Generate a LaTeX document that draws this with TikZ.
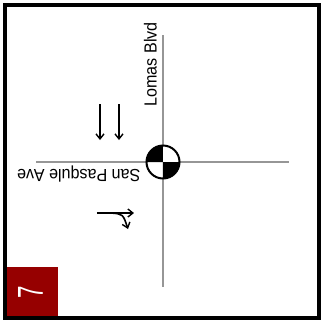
\documentclass[tikz,border=0pt]{standalone}
\usepackage{fontspec}
\setmainfont{Liberation Sans}
\usetikzlibrary{arrows.meta}
\definecolor{roadgray}{RGB}{150,150,150}
\definecolor{boxred}{RGB}{150,0,0}
\begin{document}
\begin{tikzpicture}[x=1pt,y=-1pt,
  road/.style={draw=roadgray,line width=2pt},
  lanearrow/.style={draw=black,line width=1.6pt,-{Straight Barb[length=5pt,width=8pt,line width=1.4pt]}},
  label/.style={font=\fontsize{17.5}{19}\selectfont,inner sep=0pt}]
\useasboundingbox (0,0) rectangle (322,325);
\fill[white] (0,0) rectangle (322,325);
% red corner box
\fill[boxred] (5,267) rectangle (58,318);
\node[inner sep=0pt,text=white,rotate=90,font=\fontsize{36}{38}\selectfont] (num) at (30.5,292.5) {\scalebox{0.62}[1]{7}};
% outer frame
\draw[line width=3.5pt] (5,5) rectangle (319,318);
% roads
\coordinate (n) at (163,35);
\coordinate (s) at (163,287);
\coordinate (w) at (36,162);
\coordinate (e) at (289,162);
\path[road] (n) -- (s);
\path[road] (w) -- (e);
% signal symbol
\node[circle,minimum size=33pt,inner sep=0pt,fill=white] (sig) at (163,162) {};
\fill[black] (sig.center) -- (146.5,162) arc[start angle=180,end angle=90,radius=16.5pt] -- cycle;
\fill[black] (sig.center) -- (179.5,162) arc[start angle=0,end angle=-90,radius=16.5pt] -- cycle;
\node[circle,draw=black,line width=2pt,minimum size=33pt,inner sep=0pt] (ring) at (163,162) {};
% labels
\node[label,rotate=90,anchor=south east] (lomas) at (157,22) {\scalebox{0.92}[1]{Lomas Blvd}};
\node[label,rotate=180,anchor=south east] (sanp) at (17,166) {\scalebox{0.92}[1]{San Pasqule Ave}};
% lane arrows
\coordinate (a1s) at (100,104); \coordinate (a1e) at (100,140);
\coordinate (a2s) at (119,104); \coordinate (a2e) at (119,140);
\path[lanearrow] (a1s) -- (a1e);
\path[lanearrow] (a2s) -- (a2e);
\coordinate (t0) at (97,213);
\coordinate (t1) at (134,213);
\coordinate (tb) at (111,213);
\coordinate (tc) at (123,214);
\coordinate (t2) at (128,229);
\path[lanearrow] (t0) -- (t1);
\path[lanearrow] (tb) .. controls (tc) .. (t2);
\end{tikzpicture}
\end{document}
